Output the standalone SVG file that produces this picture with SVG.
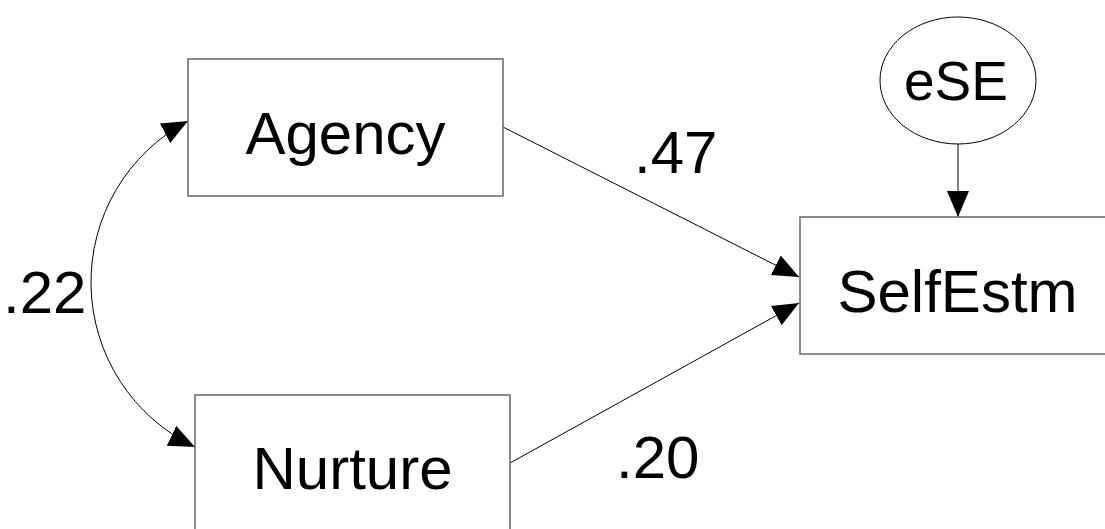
<svg xmlns="http://www.w3.org/2000/svg" width="1105" height="529" viewBox="0 0 1105 529">
  <style>
    .box { fill: #ffffff; stroke: #6e6e6e; stroke-width: 1.6; }
    .ell { fill: #ffffff; stroke: #000000; stroke-width: 1; }
    .lbl { font-family: "Liberation Sans", Arial, sans-serif; font-size: 60px; fill: #000000; }
    .name { text-anchor: middle; }
    .conn { fill: none; stroke: #000000; stroke-width: 1; }
  </style>
  <defs>
    <marker id="head" markerUnits="userSpaceOnUse" markerWidth="27" markerHeight="23" refX="26" refY="11" orient="auto-start-reverse">
      <path d="M0,0 L26,11 L0,22 Z" fill="#000000"/>
    </marker>
  </defs>

  <rect width="1105" height="529" fill="#ffffff"/>

  <!-- connectors -->
  <g id="connectors">
    <path class="conn" d="M188,121 A182.5,182.5 0 0 0 195,447" marker-start="url(#head)" marker-end="url(#head)"/>
    <line class="conn" x1="503" y1="127" x2="799" y2="277" marker-end="url(#head)"/>
    <line class="conn" x1="510" y1="463" x2="799" y2="303" marker-end="url(#head)"/>
    <line class="conn" x1="958" y1="144" x2="958" y2="217" marker-end="url(#head)"/>
  </g>

  <!-- path coefficients -->
  <g id="coefficients">
    <text class="lbl" x="3" y="313">.22</text>
    <text class="lbl" x="634" y="173">.47</text>
    <text class="lbl" x="616" y="478">.20</text>
  </g>

  <g id="agency">
    <rect class="box" x="188" y="59" width="315" height="137"/>
    <text class="lbl name" x="345.5" y="154">Agency</text>
  </g>

  <g id="nurture">
    <rect class="box" x="195" y="395" width="315" height="137"/>
    <text class="lbl name" x="352.5" y="489">Nurture</text>
  </g>

  <g id="selfestm">
    <rect class="box" x="800" y="217" width="315" height="137"/>
    <text class="lbl name" x="957.5" y="312">SelfEstm</text>
  </g>

  <g id="eSE">
    <ellipse class="ell" cx="958" cy="80.5" rx="78" ry="63.5"/>
    <text class="lbl name" x="956" y="100" style="font-size:55px">eSE</text>
  </g>
</svg>
